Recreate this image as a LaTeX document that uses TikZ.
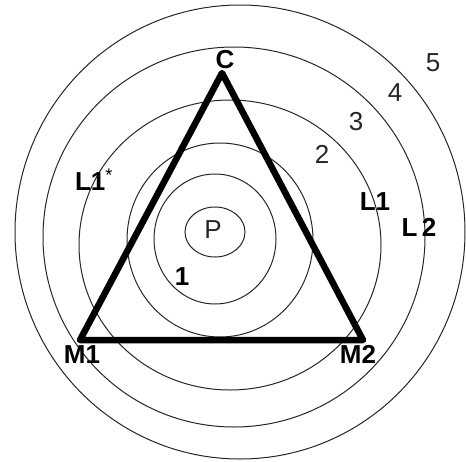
\documentclass[tikz,border=0pt]{standalone}
\usepackage{fontspec}
\setmainfont{Liberation Sans}
\usepackage{tikz}
\usetikzlibrary{positioning}

\begin{document}
\begin{tikzpicture}[x=1pt,y=-1pt,
    ring/.style={draw=black!85, line width=1pt},
    side/.style={line width=6.5pt, line cap=round, line join=round},
    num/.style={font=\fontsize{26}{30}\selectfont, text=black!85, inner sep=0pt},
    bnum/.style={font=\fontsize{26}{30}\selectfont\bfseries, inner sep=0pt}
  ]
    \useasboundingbox (0,0) rectangle (466,461);

    % contour rings round P
    \draw[ring] (215,232) ellipse [x radius=30,  y radius=25];
    \draw[ring] (215,239) ellipse [x radius=61,  y radius=65];
    \draw[ring] (220,240) ellipse [x radius=93,  y radius=97];
    \draw[ring] (230,245) ellipse [x radius=151, y radius=145];
    \draw[ring] (234,237) ellipse [x radius=191, y radius=190];
    \draw[ring] (240,232) ellipse [x radius=225, y radius=227];

    % triangle
    \coordinate (c)  at (222,73);
    \coordinate (m1) at (80,340);
    \coordinate (m2) at (363,340);
    \draw[side] (c) -- (m1) -- (m2) -- cycle;

    \node[bnum] (lc)  at (225,60)  {C};
    \node[bnum] (lm1) at (82,355)  {M1};
    \node[bnum] (lm2) at (358,354) {M2};

    \node[num]  (p)   at (213,230) {P};
    \node[bnum] (n1)  at (182,277) {1};
    \node[num]  (n2)  at (322,154) {2};
    \node[num]  (n3)  at (356,122) {3};
    \node[num]  (n4)  at (395,93)  {4};
    \node[num]  (n5)  at (433,63)  {5};

    \node[bnum] (l1)  at (375,202) {L1};
    \node[bnum] (l2)  at (419,227) {L\,2};
    \node[bnum] (l1s) at (94,180)  {L1\textsuperscript{\mdseries *}};
\end{tikzpicture}
\end{document}
